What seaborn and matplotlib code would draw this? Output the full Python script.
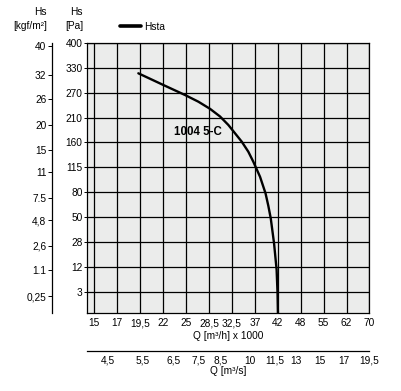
import numpy as np
import pandas as pd
import seaborn as sns
import matplotlib.pyplot as plt
from matplotlib import font_manager

# -------------------------------
# Data
# -------------------------------
q_flow = [19.30, 22.03, 24.87, 26.88, 28.68, 30.43, 31.88, 33.11, 34.43, 35.72,
          36.70, 38.13, 39.33, 39.94, 40.47, 41.19, 41.75, 41.95, 42.05]
h_static = [316.9, 288.7, 264.5, 248.4, 231.2, 212.7, 195.2, 178.5, 161.6, 143.3,
            125.2, 101.8, 78.7, 63.6, 48.9, 27.1, 10.9, 2.8, 0.0]

q_ticks = [15, 17, 19.5, 22, 25, 28.5, 32.5, 37, 42, 48, 55, 62, 70]
q_labels = ["15", "17", "19,5", "22", "25", "28,5", "32,5", "37", "42", "48", "55", "62", "70"]
pa_ticks = [3, 12, 28, 50, 80, 115, 160, 210, 270, 330, 400]
kgf_ticks = [0.25, 1.1, 2.6, 4.8, 7.5, 11, 15, 20, 26, 32, 40]
kgf_labels = ["0,25", "1.1", "2,6", "4,8", "7.5", "11", "15", "20", "26", "32", "40"]
qs_ticks = [4.5, 5.5, 6.5, 7.5, 8.5, 10, 11.5, 13, 15, 17, 19.5]
qs_labels = ["4,5", "5,5", "6,5", "7,5", "8,5", "10", "11,5", "13", "15", "17", "19,5"]

data = pd.DataFrame({"Q": q_flow, "Hs": h_static})

G = 9.80665      # Pa per kgf/m2
M3S = 3.6        # (m3/h x 1000) per m3/s

# -------------------------------
# Non-linear axis scales (equal spacing between the printed ticks)
# -------------------------------
x_anchor = [13] + q_ticks + [78]
x_idx = np.arange(-1, len(q_ticks) + 1)
y_anchor = [0] + pa_ticks + [470]
y_idx = np.arange(-1, len(pa_ticks) + 1)


def fx(v):
    return np.interp(v, x_anchor, x_idx)


def fx_inv(i):
    return np.interp(i, x_idx, x_anchor)


def fy(v):
    return np.interp(v, y_anchor, y_idx)


def fy_inv(i):
    return np.interp(i, y_idx, y_anchor)


# -------------------------------
# Style
# -------------------------------
sns.set_theme(style="white")
names = {f.name for f in font_manager.fontManager.ttflist}
family = "Liberation Sans Narrow" if "Liberation Sans Narrow" in names else "Liberation Sans"
plt.rcParams["font.family"] = [family, "DejaVu Sans"]
plt.rcParams["axes.edgecolor"] = "black"
plt.rcParams["text.color"] = "black"
plt.rcParams["xtick.color"] = "black"
plt.rcParams["ytick.color"] = "black"
plt.rcParams["axes.labelcolor"] = "black"
fs = 7.3

fig = plt.figure(figsize=(4.02, 3.91), dpi=100)
ax = fig.add_axes([87.5 / 402, (391 - 312.5) / 391, 282 / 402, 269.5 / 391])
ax.set_facecolor("#ebeceb")

sns.lineplot(data=data, x="Q", y="Hs", ax=ax, color="black", lw=1.7,
             sort=False, estimator=None, label="Hsta")

ax.set_xscale("function", functions=(fx, fx_inv))
ax.set_yscale("function", functions=(fy, fy_inv))
xlim = (fx_inv(-0.297), 70)
ylim = (fy_inv(-0.837), 400)
ax.set_xlim(xlim)
ax.set_ylim(ylim)

ax.set_xticks(q_ticks)
ax.set_xticklabels(q_labels)
ax.set_yticks(pa_ticks)
ax.set_yticklabels([str(t) for t in pa_ticks])
ax.minorticks_off()
ax.grid(True, color="black", lw=0.9)
for s in ax.spines.values():
    s.set_color("black")
    s.set_linewidth(0.9)
ax.tick_params(axis="x", length=0, pad=4, labelsize=fs)
ax.tick_params(axis="y", length=2, width=0.7, pad=1.5, labelsize=fs)
ax.set_xlabel("Q [m³/h] x 1000", fontsize=fs, labelpad=2)
ax.set_ylabel("")

ax.text(26.8, 182, "1004 5-C", fontsize=8.3, fontweight="bold", ha="center", va="center")

# Legend above the plot
leg = ax.legend(loc="center left", bbox_to_anchor=(120 / 402, 1 - 27 / 391),
                bbox_transform=fig.transFigure, frameon=False, borderpad=0,
                borderaxespad=0, handlelength=2.1, handletextpad=0.25, fontsize=fs)
for h in leg.legend_handles:
    h.set_linewidth(2.6)

# -------------------------------
# Second y axis: kgf/m2
# -------------------------------
ax2 = ax.twinx()
ax2.set_yscale("function", functions=(lambda k: fy(np.asarray(k) * G),
                                       lambda i: fy_inv(i) / G))
ax2.set_ylim(ylim[0] / G, ylim[1] / G)
ax2.set_yticks(kgf_ticks)
ax2.set_yticklabels(kgf_labels)
ax2.minorticks_off()
ax2.yaxis.set_ticks_position("left")
ax2.yaxis.set_label_position("left")
ax2.spines["left"].set_position(("outward", 25.6))
ax2.spines["left"].set_visible(True)
for side in ["right", "top", "bottom"]:
    ax2.spines[side].set_visible(False)
ax2.spines["left"].set_linewidth(0.9)
ax2.tick_params(axis="y", length=3, width=0.7, pad=1, labelsize=fs)

# -------------------------------
# Second x axis: m3/s
# -------------------------------
ax3 = ax.twiny()
ax3.set_xscale("function", functions=(lambda s: fx(np.asarray(s) * M3S),
                                       lambda i: fx_inv(i) / M3S))
ax3.set_xlim(xlim[0] / M3S, 19.5)
ax3.set_xticks(qs_ticks)
ax3.set_xticklabels(qs_labels)
ax3.minorticks_off()
ax3.xaxis.set_ticks_position("bottom")
ax3.xaxis.set_label_position("bottom")
ax3.spines["bottom"].set_position(("outward", 27.7))
ax3.spines["bottom"].set_visible(True)
for side in ["right", "top", "left"]:
    ax3.spines[side].set_visible(False)
ax3.spines["bottom"].set_linewidth(0.9)
ax3.tick_params(axis="x", length=0, pad=3.5, labelsize=fs)
ax3.set_xlabel("Q [m³/s]", fontsize=fs, labelpad=0)

# Column headers for the two pressure axes
fig.text(47 / 402, 1 - 12 / 391, "Hs", ha="right", va="center", fontsize=fs)
fig.text(47 / 402, 1 - 26 / 391, "[kgf/m²]", ha="right", va="center", fontsize=fs)
fig.text(83 / 402, 1 - 12 / 391, "Hs", ha="right", va="center", fontsize=fs)
fig.text(83 / 402, 1 - 26 / 391, "[Pa]", ha="right", va="center", fontsize=fs)

fig.savefig("out.png", dpi=100)
plt.close(fig)
